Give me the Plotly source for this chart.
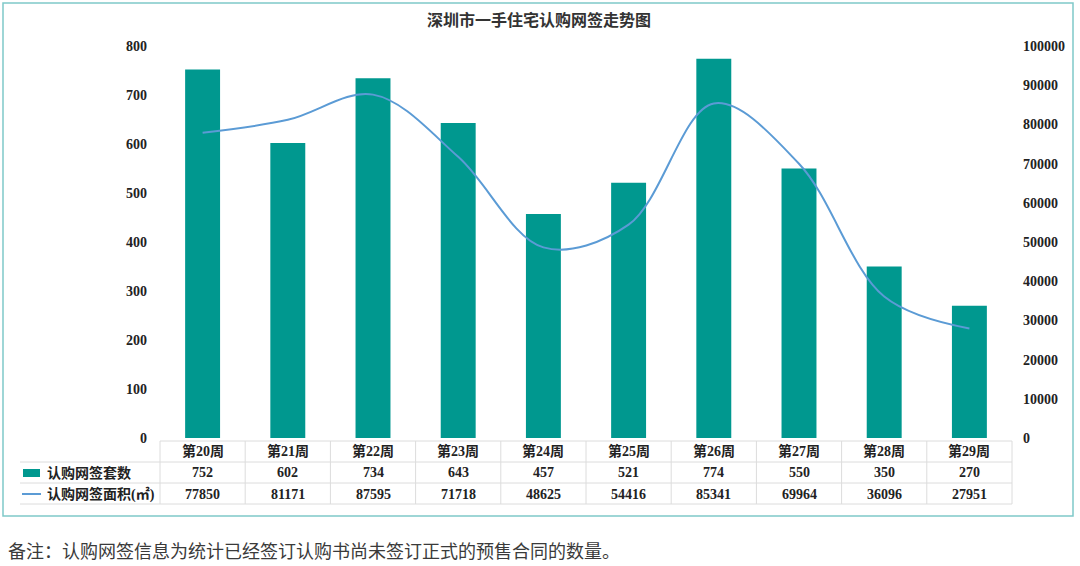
import plotly.graph_objects as go

# 数据
weeks = ['第20周', '第21周', '第22周', '第23周', '第24周',
         '第25周', '第26周', '第27周', '第28周', '第29周']
units = [752, 602, 734, 643, 457, 521, 774, 550, 350, 270]
area = [77850, 81171, 87595, 71718, 48625, 54416, 85341, 69964, 36096, 27951]

TITLE = '深圳市一手住宅认购网签走势图'
NOTE = '备注：认购网签信息为统计已经签订认购书尚未签订正式的预售合同的数量。'
BAR_NAME = '认购网签套数'
LINE_NAME = '认购网签面积(㎡)'

BAR_COLOR = '#00988f'
LINE_COLOR = '#5b9bd5'
FRAME_COLOR = '#7fc9c9'
GRID_COLOR = '#dcdcdc'
SERIF = 'Liberation Serif, Noto Sans CJK SC'

W, H = 1080, 566
L, R, T, B = 160, 1012, 46, 438   # 绘图区像素边界


def px(x):
    return (x - L) / (R - L)


def py(y):
    return (B - y) / (B - T)


fig = go.Figure()
fig.add_trace(go.Bar(
    x=weeks, y=units, name=BAR_NAME, marker=dict(color=BAR_COLOR, line=dict(width=0)),
    width=0.41, yaxis='y'
))
fig.add_trace(go.Scatter(
    x=weeks, y=area, name=LINE_NAME, mode='lines',
    line=dict(color=LINE_COLOR, width=2, shape='spline', smoothing=1.0),
    yaxis='y2'
))

shapes = []
annotations = []

# 外框
shapes.append(dict(type='rect', xref='paper', yref='paper',
                   x0=px(3), x1=px(1073), y0=py(516), y1=py(3),
                   line=dict(color=FRAME_COLOR, width=1.5), layer='below'))

# 数据表格线
n = len(weeks)
col_w = (R - L) / n
for yy, x_start in [(441, L), (462, 20), (483, 20), (504, 20)]:
    shapes.append(dict(type='line', xref='paper', yref='paper',
                       x0=px(x_start), x1=px(R), y0=py(yy), y1=py(yy),
                       line=dict(color=GRID_COLOR, width=1)))
for i in range(n + 1):
    xx = L + i * col_w
    shapes.append(dict(type='line', xref='paper', yref='paper',
                       x0=px(xx), x1=px(xx), y0=py(441), y1=py(504),
                       line=dict(color=GRID_COLOR, width=1)))

# 表格中的图例符号
shapes.append(dict(type='rect', xref='paper', yref='paper',
                   x0=px(23), x1=px(40), y0=py(477), y1=py(469),
                   fillcolor=BAR_COLOR, line=dict(width=0)))
shapes.append(dict(type='line', xref='paper', yref='paper',
                   x0=px(22), x1=px(41), y0=py(494), y1=py(494),
                   line=dict(color=LINE_COLOR, width=2)))

cell_font = dict(family=SERIF, size=14, color='#222222', weight='bold')
annotations.append(dict(text=BAR_NAME, xref='paper', yref='paper', x=px(45), y=py(473),
                        xanchor='left', yanchor='middle', showarrow=False, font=cell_font))
annotations.append(dict(text=LINE_NAME, xref='paper', yref='paper', x=px(45), y=py(494),
                        xanchor='left', yanchor='middle', showarrow=False, font=cell_font))

for w, u, a in zip(weeks, units, area):
    for txt, yy in [(w, 451), (str(u), 473), (str(a), 494)]:
        annotations.append(dict(text=txt, x=w, xref='x', yref='paper', y=py(yy),
                                xanchor='center', yanchor='middle', showarrow=False,
                                font=cell_font))

# 标题与备注
annotations.append(dict(text=TITLE, xref='paper', yref='paper', x=px(539), y=py(19),
                        xanchor='center', yanchor='middle', showarrow=False,
                        font=dict(family='Noto Sans CJK SC', size=16, color='#333333',
                                  weight='bold')))
annotations.append(dict(text=NOTE, xref='paper', yref='paper', x=px(6), y=py(550),
                        xanchor='left', yanchor='middle', showarrow=False,
                        font=dict(family='Noto Sans CJK SC', size=18, color='#3a3a3a')))

tick_font = dict(family=SERIF, size=14, color='#222222', weight='bold')
fig.update_layout(
    width=W, height=H,
    margin=dict(l=L, r=W - R, t=T, b=H - B),
    paper_bgcolor='white', plot_bgcolor='white',
    showlegend=False,
    xaxis=dict(showticklabels=False, showgrid=False, showline=False, zeroline=False,
               range=[-0.5, n - 0.5]),
    yaxis=dict(range=[0, 800], dtick=100, showgrid=False, zeroline=False,
               showline=False, tickfont=tick_font, ticks='', ticklabelstandoff=12),
    yaxis2=dict(range=[0, 100000], dtick=10000, overlaying='y', side='right',
                showgrid=False, zeroline=False, showline=False, tickfont=tick_font,
                ticks='', ticklabelstandoff=10, tickformat='d'),
    shapes=shapes,
    annotations=annotations,
)

# 去掉页面默认边距，让图从窗口左上角开始
fig.write_html('out.html', config={'displayModeBar': False},
               post_script="document.body.style.margin='0';"
                           "document.body.style.overflow='hidden';")
